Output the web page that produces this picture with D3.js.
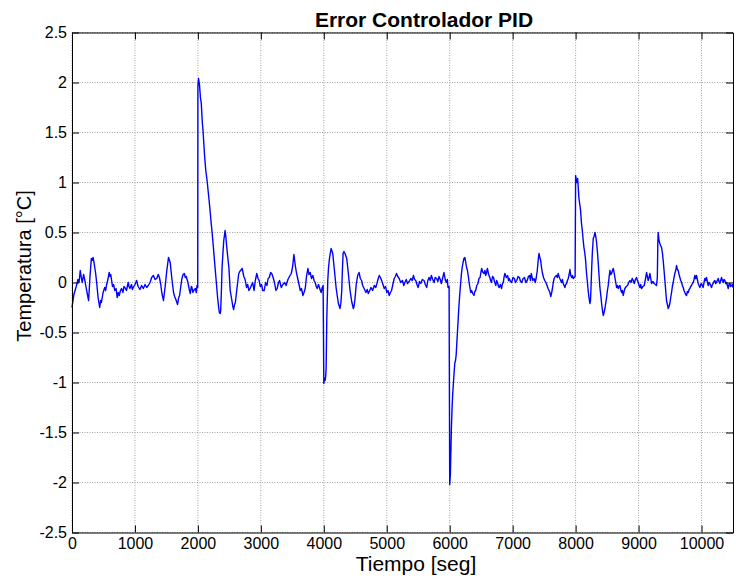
<!DOCTYPE html>
<html>
<head>
<meta charset="utf-8">
<script src="https://cdnjs.cloudflare.com/ajax/libs/d3/7.8.5/d3.min.js"></script>
<style>
  html, body { margin: 0; padding: 0; background: #fff; }
  svg text { font-family: "Liberation Sans", Arial, Helvetica, sans-serif; fill: #000; }
</style>
</head>
<body>
<div id="chart"></div>
<script>
// Tick values for both axes
var xTicks = [0, 1000, 2000, 3000, 4000, 5000, 6000, 7000, 8000, 9000, 10000];
var yTicks = [-2.5, -2, -1.5, -1, -0.5, 0, 0.5, 1, 1.5, 2, 2.5];

// Error samples [time (s), error (°C)]
var errorSamples = [
  [0,-0.25],[30,-0.12],[67,-0.04],[94,0.03],[112,0.0],[131,0.12],[150,0.04],[163,0.0],[184,0.08],[205,0.02],
  [227,-0.06],[245,-0.12],[264,-0.18],[285,0.05],[307,0.24],[320,0.22],[334,0.25],[350,0.2],[376,0.09],[395,-0.02],
  [414,-0.15],[440,-0.25],[455,-0.18],[467,-0.2],[494,-0.1],[520,-0.05],[535,-0.08],[547,-0.03],[570,0.03],[590,0.1],
  [603,0.06],[616,0.08],[643,-0.04],[660,-0.02],[680,-0.08],[700,-0.06],[718,-0.15],[735,-0.1],[750,-0.13],[770,-0.08],
  [787,-0.06],[810,-0.1],[825,-0.04],[840,-0.05],[865,-0.08],[893,0.0],[905,-0.04],[920,-0.06],[945,-0.02],[960,-0.07],
  [973,-0.05],[1000,-0.02],[1027,0.02],[1050,-0.04],[1080,-0.07],[1105,-0.03],[1133,-0.06],[1160,-0.02],[1187,-0.05],[1212,-0.03],
  [1240,0.0],[1265,0.05],[1293,0.07],[1320,0.03],[1346,0.04],[1370,0.08],[1389,0.05],[1410,-0.02],[1426,-0.1],[1453,-0.18],
  [1480,-0.04],[1506,0.12],[1533,0.25],[1560,0.2],[1586,0.04],[1613,-0.1],[1630,-0.14],[1650,-0.17],[1677,-0.22],[1695,-0.15],
  [1709,-0.13],[1728,-0.04],[1746,0.04],[1765,0.08],[1784,0.09],[1800,0.05],[1815,0.06],[1842,0.0],[1860,-0.06],[1879,-0.11],
  [1895,-0.04],[1906,-0.05],[1920,-0.1],[1933,-0.08],[1959,-0.06],[1975,-0.1],[1986,-0.03],[1997,-0.05],
  [2000,1.96],[2010,2.04],[2025,1.98],[2040,1.85],[2054,1.79],[2070,1.6],[2081,1.52],[2095,1.38],[2108,1.25],[2125,1.12],
  [2146,1.02],[2165,0.9],[2189,0.75],[2210,0.6],[2227,0.49],[2245,0.36],[2259,0.25],[2286,0.05],[2313,-0.15],[2330,-0.25],
  [2341,-0.3],[2355,-0.31],[2362,-0.28],[2375,-0.05],[2384,0.15],[2398,0.3],[2411,0.42],[2432,0.52],[2445,0.45],[2459,0.35],
  [2475,0.25],[2492,0.15],[2513,-0.08],[2540,-0.18],[2555,-0.24],[2568,-0.27],[2582,-0.22],[2595,-0.2],[2622,-0.05],[2649,0.09],
  [2665,0.11],[2679,0.12],[2703,0.14],[2730,0.06],[2750,0.03],[2773,-0.05],[2790,-0.02],[2811,-0.08],[2830,-0.06],[2849,-0.03],
  [2870,0.0],[2892,-0.08],[2912,0.02],[2935,0.09],[2955,0.04],[2973,0.02],[2990,-0.04],[3011,-0.02],[3030,-0.08],[3054,-0.08],
  [3075,0.0],[3097,-0.03],[3115,0.04],[3135,0.05],[3155,0.1],[3173,0.09],[3195,0.05],[3216,0.0],[3239,-0.08],[3259,-0.06],
  [3280,0.0],[3297,0.02],[3325,-0.05],[3350,-0.02],[3378,0.0],[3400,-0.03],[3430,0.03],[3455,0.06],[3483,0.09],[3505,0.16],
  [3525,0.28],[3547,0.17],[3565,0.1],[3589,0.03],[3610,-0.03],[3626,-0.08],[3645,-0.06],[3668,-0.13],[3685,-0.1],[3705,-0.06],
  [3725,0.06],[3747,0.14],[3765,0.08],[3784,0.1],[3805,0.04],[3826,0.07],[3845,0.02],[3863,0.0],[3880,-0.04],[3895,-0.06],
  [3915,-0.02],[3931,-0.05],[3945,-0.08],[3958,-0.1],[3975,-0.05],[3989,-0.03],
  [4000,-1.01],[4012,-0.96],[4021,-0.98],[4030,-0.94],[4037,-0.85],[4047,-0.38],[4063,0.02],[4075,0.15],[4090,0.24],[4105,0.3],
  [4116,0.34],[4142,0.29],[4169,0.12],[4195,-0.05],[4215,-0.14],[4232,-0.21],[4258,-0.26],[4272,-0.2],[4285,-0.08],[4295,0.12],
  [4306,0.29],[4320,0.31],[4337,0.29],[4364,0.24],[4390,0.09],[4417,-0.08],[4443,-0.19],[4469,-0.26],[4480,-0.24],[4496,-0.16],
  [4515,-0.02],[4538,0.07],[4560,0.1],[4580,0.04],[4600,0.02],[4617,-0.03],[4640,-0.06],[4670,-0.1],[4690,-0.07],[4707,-0.11],
  [4730,-0.08],[4749,-0.05],[4775,-0.08],[4802,-0.03],[4825,-0.05],[4844,-0.01],[4865,0.04],[4881,0.07],[4900,0.05],[4918,0.02],
  [4940,-0.02],[4960,-0.06],[4980,-0.04],[5002,-0.1],[5020,-0.08],[5039,-0.13],[5058,-0.1],[5076,-0.08],[5097,-0.02],[5118,0.04],
  [5137,0.06],[5155,0.09],[5175,0.06],[5197,0.04],[5222,0.0],[5250,0.02],[5270,-0.03],[5287,0.0],[5310,0.03],[5329,-0.01],
  [5355,0.01],[5382,0.04],[5403,0.02],[5424,0.07],[5442,0.03],[5461,0.02],[5480,-0.02],[5498,-0.05],[5520,0.01],[5540,-0.01],
  [5565,0.03],[5592,0.02],[5612,-0.02],[5635,-0.05],[5652,0.02],[5672,0.05],[5690,0.02],[5709,0.07],[5730,0.03],[5751,0.0],
  [5770,0.05],[5793,0.04],[5812,0.01],[5830,0.06],[5850,0.03],[5867,-0.01],[5890,0.05],[5909,0.1],[5928,0.03],[5946,0.0],
  [5962,0.03],[5973,-0.05],[5990,-0.04],
  [6000,-2.02],[6011,-1.91],[6020,-1.65],[6027,-1.45],[6038,-1.25],[6048,-1.11],[6065,-0.95],[6080,-0.81],[6092,-0.78],[6102,-0.73],
  [6118,-0.55],[6130,-0.42],[6144,-0.26],[6158,-0.13],[6171,-0.03],[6185,0.08],[6198,0.15],[6212,0.2],[6225,0.24],[6241,0.25],
  [6255,0.2],[6268,0.15],[6282,0.12],[6294,0.07],[6308,0.0],[6321,-0.05],[6335,-0.1],[6348,-0.08],[6365,-0.11],[6385,-0.13],
  [6398,-0.09],[6412,-0.08],[6430,-0.03],[6449,-0.01],[6465,0.04],[6482,0.05],[6495,0.1],[6508,0.14],[6528,0.1],[6546,0.09],
  [6560,0.12],[6572,0.07],[6585,0.1],[6599,0.14],[6618,0.08],[6637,0.05],[6650,0.02],[6663,0.0],[6680,0.06],[6696,0.05],
  [6715,0.0],[6733,-0.03],[6745,0.02],[6760,0.0],[6775,-0.04],[6786,-0.05],[6805,-0.02],[6824,-0.06],[6838,-0.01],[6851,0.0],
  [6865,0.06],[6877,0.09],[6900,0.05],[6920,0.07],[6935,0.02],[6947,0.04],[6965,0.01],[6984,0.0],[7005,0.05],[7027,0.04],
  [7045,0.0],[7065,0.02],[7085,0.06],[7107,0.05],[7125,0.01],[7145,0.0],[7165,0.04],[7188,0.05],[7210,0.0],[7231,0.02],
  [7250,0.06],[7268,0.07],[7283,0.02],[7295,0.09],[7310,0.05],[7321,0.02],[7340,0.04],[7359,0.0],[7375,0.05],[7391,0.12],
  [7405,0.22],[7418,0.29],[7432,0.25],[7445,0.22],[7458,0.15],[7471,0.1],[7490,0.05],[7509,0.02],[7528,0.0],[7546,-0.03],
  [7562,-0.06],[7578,-0.08],[7592,-0.1],[7605,-0.14],[7620,-0.1],[7632,-0.06],[7645,0.0],[7659,0.04],[7677,0.06],[7696,0.07],
  [7710,0.05],[7723,0.09],[7736,0.06],[7749,0.04],[7763,0.02],[7776,0.0],[7790,0.03],[7803,-0.01],[7817,-0.03],[7830,-0.05],
  [7843,-0.02],[7856,-0.01],[7870,0.02],[7883,0.04],[7897,0.08],[7910,0.13],[7923,0.07],[7937,0.05],[7950,0.07],[7963,0.04],
  [7977,0.05],[7992,0.06],
  [8000,1.07],[8010,1.03],[8021,1.0],[8032,1.04],[8042,0.95],[8053,0.84],[8066,0.78],[8079,0.72],[8092,0.6],[8106,0.52],
  [8119,0.43],[8132,0.35],[8145,0.3],[8159,0.22],[8172,0.1],[8185,0.02],[8199,-0.08],[8212,-0.15],[8227,-0.21],[8236,-0.18],
  [8243,-0.08],[8254,0.12],[8265,0.29],[8280,0.44],[8293,0.46],[8307,0.5],[8320,0.46],[8333,0.4],[8347,0.3],[8360,0.19],
  [8373,0.06],[8386,-0.05],[8400,-0.13],[8413,-0.21],[8426,-0.28],[8439,-0.33],[8452,-0.3],[8466,-0.26],[8480,-0.2],[8492,-0.15],
  [8505,-0.08],[8518,-0.03],[8531,0.05],[8545,0.12],[8558,0.08],[8571,0.09],[8585,0.12],[8598,0.14],[8611,0.1],[8624,0.05],
  [8638,0.0],[8651,-0.05],[8664,-0.03],[8677,-0.06],[8690,-0.04],[8704,-0.03],[8717,-0.07],[8730,-0.1],[8743,-0.08],[8756,-0.13],
  [8770,-0.09],[8783,-0.06],[8804,-0.04],[8825,-0.03],[8843,0.0],[8862,0.02],[8880,0.0],[8899,0.04],[8915,0.02],[8931,-0.01],
  [8950,0.03],[8968,0.05],[8982,0.02],[8995,0.0],[9008,-0.03],[9021,-0.05],[9034,-0.02],[9047,-0.06],[9068,-0.04],[9090,-0.03],
  [9108,0.03],[9127,0.1],[9140,0.06],[9153,0.02],[9167,0.05],[9180,0.09],[9193,0.04],[9206,-0.01],[9227,0.01],[9248,-0.01],
  [9266,-0.02],[9285,-0.03],[9298,0.05],[9306,0.4],[9312,0.5],[9325,0.42],[9338,0.39],[9351,0.37],[9365,0.35],[9378,0.3],
  [9391,0.22],[9405,0.12],[9418,0.02],[9431,-0.08],[9444,-0.18],[9458,-0.22],[9471,-0.26],[9484,-0.24],[9497,-0.21],[9511,-0.15],
  [9524,-0.1],[9537,-0.04],[9550,0.0],[9563,0.05],[9576,0.09],[9590,0.12],[9603,0.17],[9617,0.13],[9630,0.12],[9643,0.08],
  [9656,0.05],[9670,0.02],[9683,0.0],[9696,-0.03],[9709,-0.05],[9722,-0.08],[9735,-0.1],[9749,-0.12],[9762,-0.13],[9775,-0.09],
  [9789,-0.1],[9802,-0.07],[9815,-0.06],[9828,-0.04],[9841,-0.03],[9855,-0.01],[9868,0.0],[9881,0.03],[9894,0.07],[9908,0.04],
  [9921,0.07],[9934,0.03],[9947,-0.01],[9960,-0.03],[9974,-0.05],[9987,-0.02],[10000,-0.01],[10013,-0.03],[10026,-0.05],[10040,0.0],
  [10053,0.04],[10066,0.02],[10079,0.05],[10092,0.01],[10106,-0.03],[10119,0.0],[10132,-0.01],[10145,-0.03],[10159,-0.05],[10172,-0.02],
  [10185,-0.01],[10198,0.01],[10212,0.02],[10225,-0.01],[10238,0.0],[10251,0.02],[10265,0.04],[10278,0.01],[10291,-0.01],[10304,0.02],
  [10318,0.05],[10331,0.02],[10344,0.0],[10357,0.03],[10371,0.02],[10384,-0.01],[10397,0.0],[10411,-0.03],[10424,-0.06],[10437,-0.02],
  [10450,-0.01],[10463,-0.04],[10477,-0.03],[10490,-0.02],[10500,-0.05]
];

function init() {
    var w = 736;
    var h = 579;
    var left = 72, right = 733, top = 32.5, bottom = 532.5;

    var xScale = d3.scaleLinear().domain([0, 10500]).range([left, right]);
    var yScale = d3.scaleLinear().domain([-2.5, 2.5]).range([bottom, top]);

    var svg = d3.select("#chart")
        .append("svg")
        .attr("width", w)
        .attr("height", h)
        .style("background", "#fff");

    // dotted grid
    svg.append("g").selectAll("line.gx")
        .data(xTicks).enter().append("line")
        .attr("x1", function (d) { return xScale(d); })
        .attr("x2", function (d) { return xScale(d); })
        .attr("y1", top).attr("y2", bottom)
        .style("stroke", "#a0a0a0").style("stroke-width", 1)
        .style("stroke-dasharray", "1,1.5");

    svg.append("g").selectAll("line.gy")
        .data(yTicks).enter().append("line")
        .attr("x1", left).attr("x2", right)
        .attr("y1", function (d) { return yScale(d); })
        .attr("y2", function (d) { return yScale(d); })
        .style("stroke", "#a0a0a0").style("stroke-width", 1)
        .style("stroke-dasharray", "1,1.5");

    // the error line
    var line = d3.line()
        .x(function (d) { return xScale(d[0]); })
        .y(function (d) { return yScale(d[1]); });

    svg.append("path")
        .datum(errorSamples)
        .attr("d", line)
        .style("fill", "none")
        .style("stroke", "#0000ff")
        .style("stroke-width", 1.4)
        .style("stroke-linejoin", "round");

    // box axes, ticks pointing inward
    var xAxis = d3.axisBottom(xScale).tickValues(xTicks).tickSizeInner(-7).tickSizeOuter(0).tickPadding(5)
        .tickFormat(d3.format("d"));
    var xAxisTop = d3.axisTop(xScale).tickValues(xTicks).tickSizeInner(-7).tickSizeOuter(0).tickFormat("");
    var yAxis = d3.axisLeft(yScale).tickValues(yTicks).tickSizeInner(-7).tickSizeOuter(0).tickPadding(5)
        .tickFormat(function (d) { return String(d); });
    var yAxisRight = d3.axisRight(yScale).tickValues(yTicks).tickSizeInner(-7).tickSizeOuter(0).tickFormat("");

    var gx = svg.append("g").attr("transform", "translate(0," + bottom + ")").call(xAxis);
    svg.append("g").attr("transform", "translate(0," + top + ")").call(xAxisTop);
    var gy = svg.append("g").attr("transform", "translate(" + left + ",0)").call(yAxis);
    svg.append("g").attr("transform", "translate(" + right + ",0)").call(yAxisRight);

    svg.selectAll(".domain, .tick line").style("stroke", "#000").style("stroke-width", 1);
    gx.selectAll("text").style("font-size", "16px").style("font-family", "'Liberation Sans', Arial, sans-serif");
    gy.selectAll("text").style("font-size", "16px").style("font-family", "'Liberation Sans', Arial, sans-serif");

    // title and labels
    svg.append("text")
        .attr("x", 424).attr("y", 27)
        .attr("text-anchor", "middle")
        .style("font-size", "21px").style("font-weight", "bold")
        .text("Error Controlador PID");

    svg.append("text")
        .attr("x", 416).attr("y", 571)
        .attr("text-anchor", "middle")
        .style("font-size", "21px")
        .text("Tiempo [seg]");

    svg.append("text")
        .attr("transform", "translate(31,266) rotate(-90)")
        .attr("text-anchor", "middle")
        .style("font-size", "20px")
        .text("Temperatura [°C]");
}

window.onload = init;
</script>
</body>
</html>
